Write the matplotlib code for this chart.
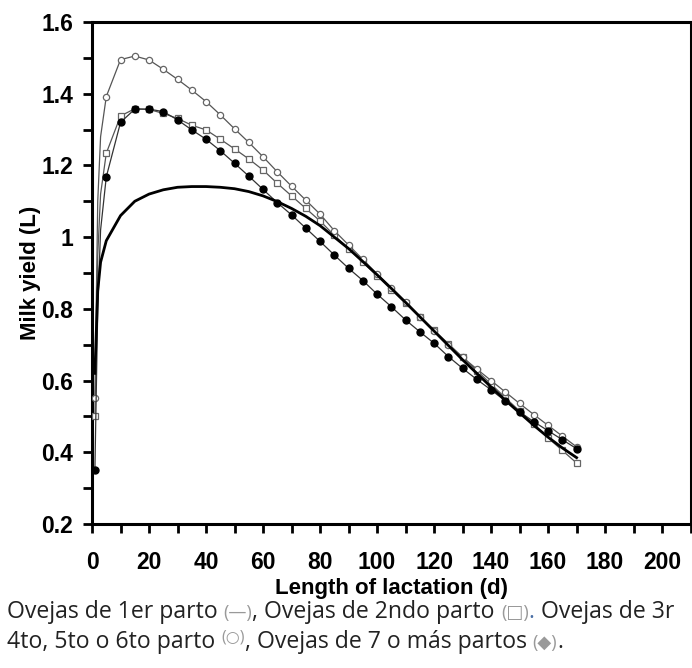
import numpy as np
import matplotlib.pyplot as plt
from matplotlib.ticker import MultipleLocator, FuncFormatter

# Días de lactación y producción (L)
dias = [1, 2, 3, 5, 10, 15, 20, 25, 30, 35, 40, 45, 50, 55, 60, 65, 70, 75, 80, 85,
        90, 95, 100, 105, 110, 115, 120, 125, 130, 135, 140, 145, 150, 155, 160, 165, 170]

parto1 = [0.62, 0.85, 0.93, 0.99, 1.06, 1.10, 1.12, 1.132, 1.139, 1.141, 1.141, 1.139,
          1.135, 1.127, 1.115, 1.099, 1.080, 1.058, 1.032, 1.000, 0.968, 0.932, 0.895,
          0.857, 0.818, 0.778, 0.738, 0.698, 0.658, 0.620, 0.582, 0.545, 0.510, 0.475,
          0.442, 0.412, 0.385]

parto2 = [0.50, 0.95, 1.12, 1.234, 1.338, 1.358, 1.356, 1.345, 1.331, 1.312, 1.299,
          1.273, 1.246, 1.218, 1.187, 1.150, 1.115, 1.080, 1.045, 1.005, 0.968, 0.930,
          0.892, 0.853, 0.815, 0.777, 0.740, 0.703, 0.665, 0.628, 0.590, 0.552, 0.515,
          0.478, 0.440, 0.405, 0.370]

parto3a6 = [0.55, 1.10, 1.28, 1.392, 1.495, 1.505, 1.494, 1.468, 1.440, 1.410, 1.378,
            1.341, 1.302, 1.264, 1.224, 1.182, 1.142, 1.103, 1.064, 1.018, 0.978, 0.938,
            0.897, 0.858, 0.818, 0.777, 0.737, 0.700, 0.665, 0.632, 0.600, 0.568, 0.536,
            0.505, 0.475, 0.445, 0.415]

parto7 = [0.35, 0.80, 1.02, 1.168, 1.320, 1.357, 1.357, 1.350, 1.327, 1.299, 1.273,
          1.241, 1.206, 1.170, 1.133, 1.096, 1.062, 1.025, 0.988, 0.950, 0.913, 0.879,
          0.841, 0.806, 0.769, 0.736, 0.704, 0.667, 0.634, 0.603, 0.574, 0.543, 0.513,
          0.485, 0.460, 0.435, 0.410]

marcas = [0] + list(range(3, len(dias)))

fig = plt.figure(figsize=(6.92, 6.68), dpi=100)
ax = fig.add_axes([0.133, 0.2156, 0.865, 0.7515])

ax.plot(dias, parto2, color='#555555', lw=0.9, marker='s', ms=4.5, mfc='white',
        mec='#666666', mew=0.9, markevery=marcas, zorder=3)
ax.plot(dias, parto3a6, color='#555555', lw=0.9, marker='o', ms=4.5, mfc='white',
        mec='#666666', mew=0.9, markevery=marcas, zorder=3)
ax.plot(dias, parto7, color='#333333', lw=0.9, marker='o', ms=5, mfc='black',
        mec='black', markevery=marcas, zorder=4)
ax.plot(dias, parto1, color='black', lw=2, zorder=5)

ax.set_xlim(0, 210)
ax.set_ylim(0.2, 1.6)
ax.xaxis.set_major_locator(MultipleLocator(20))
ax.xaxis.set_minor_locator(MultipleLocator(10))
ax.yaxis.set_major_locator(MultipleLocator(0.2))
ax.yaxis.set_minor_locator(MultipleLocator(0.1))
ax.yaxis.set_major_formatter(FuncFormatter(lambda v, p: '%g' % round(v, 2)))

for s in ax.spines.values():
    s.set_linewidth(2.2)
ax.tick_params(axis='both', which='both', direction='out', width=2, length=6.5)
ax.tick_params(axis='x', which='major', pad=13)
ax.tick_params(axis='y', which='major', pad=7)
ax.tick_params(labelsize=16.5)
for lab in ax.get_xticklabels() + ax.get_yticklabels():
    lab.set_fontweight('bold')
    lab.set_family('Liberation Sans')

ax.set_xlabel('Length of lactation (d)', fontsize=16, fontweight='bold',
              family='Liberation Sans', labelpad=3)
ax.set_ylabel('Milk yield (L)', fontsize=16, fontweight='bold',
              family='Liberation Sans', labelpad=0)

# Pie de figura, en trozos para los colores
fam = ['Open Sans', 'DejaVu Sans']
negro = '#222222'
gris = '#999999'
lineas = [
    (0.075, [('Ovejas de 1er parto ', negro, 16.6), ('(—)', gris, 13), (', Ovejas de 2ndo parto ', negro, 16.6),
             ('(□)', gris, 13), ('. ', '#4a6fa5', 16.6), ('Ovejas de 3r', negro, 16.6)]),
    (0.030, [('4to, 5to o 6to parto ', negro, 16.6), ('(○)', gris, 11.5), (', Ovejas de 7 o más partos ', negro, 16.6),
             ('(◆)', gris, 13), ('.', negro, 16.6)]),
]

fig.canvas.draw()
r = fig.canvas.get_renderer()
for y, trozos in lineas:
    x = 0.010
    for txt, col, fs in trozos:
        dy = 0.01 if txt == '(○)' else 0
        t = fig.text(x, y + dy, txt, color=col, fontsize=fs, family=fam, va='baseline')
        bb = t.get_window_extent(renderer=r)
        x += bb.width / fig.bbox.width

fig.savefig('out.png', dpi=100)
